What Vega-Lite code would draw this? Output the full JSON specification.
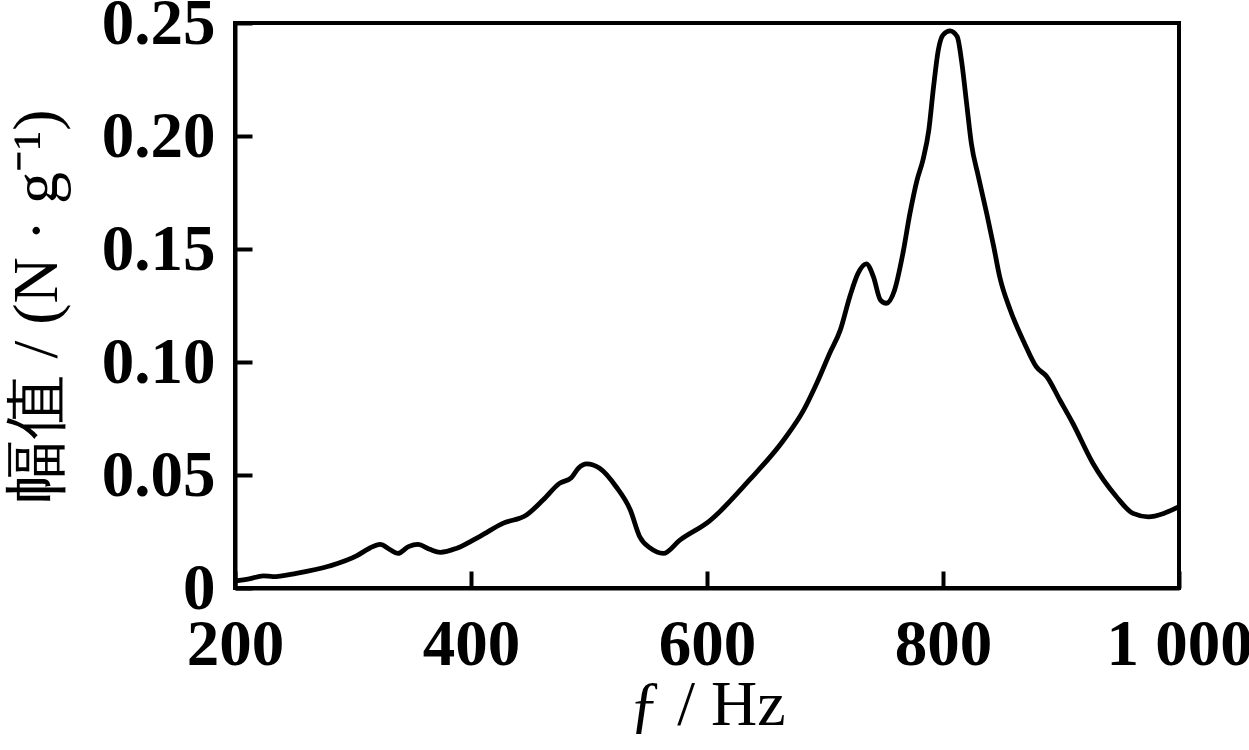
{
  "$schema": "https://vega.github.io/schema/vega-lite/v6.json",
  "autosize": {"type": "none"},
  "padding": {"left": 235, "top": 23, "right": 70, "bottom": 162},
  "width": 944,
  "height": 565,
  "background": "white",
  "data": {
    "values": [
      {"f": 200, "amp": 0.003},
      {"f": 212, "amp": 0.004},
      {"f": 224, "amp": 0.0054},
      {"f": 232, "amp": 0.005},
      {"f": 252, "amp": 0.0065},
      {"f": 280, "amp": 0.0097},
      {"f": 303, "amp": 0.0142},
      {"f": 314, "amp": 0.0176},
      {"f": 323, "amp": 0.0193},
      {"f": 331, "amp": 0.0171},
      {"f": 338, "amp": 0.0153},
      {"f": 347, "amp": 0.0183},
      {"f": 355, "amp": 0.0193},
      {"f": 365, "amp": 0.0171},
      {"f": 374, "amp": 0.0158},
      {"f": 388, "amp": 0.0176},
      {"f": 408, "amp": 0.023},
      {"f": 427, "amp": 0.0286},
      {"f": 447, "amp": 0.0323},
      {"f": 461, "amp": 0.0389},
      {"f": 475, "amp": 0.0463},
      {"f": 485, "amp": 0.0488},
      {"f": 491, "amp": 0.053},
      {"f": 498, "amp": 0.0549},
      {"f": 509, "amp": 0.053},
      {"f": 523, "amp": 0.0448},
      {"f": 535, "amp": 0.0345},
      {"f": 543, "amp": 0.0227},
      {"f": 552, "amp": 0.0176},
      {"f": 563, "amp": 0.0153},
      {"f": 577, "amp": 0.0212},
      {"f": 602, "amp": 0.0296},
      {"f": 636, "amp": 0.0478},
      {"f": 665, "amp": 0.0655},
      {"f": 682, "amp": 0.0788},
      {"f": 693, "amp": 0.0906},
      {"f": 704, "amp": 0.1039},
      {"f": 713, "amp": 0.1142},
      {"f": 721, "amp": 0.1289},
      {"f": 728, "amp": 0.1392},
      {"f": 735, "amp": 0.1434},
      {"f": 741, "amp": 0.1378},
      {"f": 747, "amp": 0.1274},
      {"f": 752, "amp": 0.126},
      {"f": 759, "amp": 0.1319},
      {"f": 766, "amp": 0.148},
      {"f": 772, "amp": 0.1658},
      {"f": 778, "amp": 0.1805},
      {"f": 783, "amp": 0.1894},
      {"f": 788, "amp": 0.2027},
      {"f": 792, "amp": 0.2218},
      {"f": 796, "amp": 0.238},
      {"f": 800, "amp": 0.2447},
      {"f": 806, "amp": 0.2465},
      {"f": 812, "amp": 0.244},
      {"f": 816, "amp": 0.2322},
      {"f": 820, "amp": 0.2145},
      {"f": 824, "amp": 0.1968},
      {"f": 830, "amp": 0.182},
      {"f": 837, "amp": 0.1658},
      {"f": 843, "amp": 0.151},
      {"f": 848, "amp": 0.1378},
      {"f": 857, "amp": 0.123},
      {"f": 869, "amp": 0.1083},
      {"f": 879, "amp": 0.0979},
      {"f": 888, "amp": 0.0935},
      {"f": 899, "amp": 0.0832},
      {"f": 910, "amp": 0.0729},
      {"f": 927, "amp": 0.0552},
      {"f": 947, "amp": 0.0404},
      {"f": 961, "amp": 0.033},
      {"f": 974, "amp": 0.0315},
      {"f": 987, "amp": 0.033},
      {"f": 1000, "amp": 0.036}
    ]
  },
  "mark": {"type": "line", "color": "black", "strokeWidth": 4.8, "interpolate": "monotone"},
  "encoding": {
    "x": {
      "field": "f",
      "type": "quantitative",
      "scale": {"domain": [200, 1000], "nice": false, "zero": false},
      "axis": {
        "title": "ƒ / Hz",
        "values": [200, 400, 600, 800, 1000],
        "labelExpr": "datum.value == 1000 ? '1 000' : datum.label",
        "labelPadding": 42,
        "titlePadding": -4
      }
    },
    "y": {
      "field": "amp",
      "type": "quantitative",
      "scale": {"domain": [0, 0.25], "nice": false},
      "axis": {
        "title": "幅值 / (N · g⁻¹)",
        "values": [0, 0.05, 0.1, 0.15, 0.2, 0.25],
        "labelExpr": "datum.value == 0 ? '0' : format(datum.value, '.2f')",
        "labelPadding": 37,
        "titlePadding": 32
      }
    }
  },
  "config": {
    "view": {"stroke": "black", "strokeWidth": 4},
    "axis": {
      "grid": false,
      "domainColor": "black",
      "domainWidth": 4,
      "tickColor": "black",
      "tickWidth": 4,
      "tickSize": -17,
      "labelFont": "Liberation Serif",
      "labelFontSize": 65,
      "labelFontWeight": "bold",
      "labelColor": "black",
      "labelOverlap": false,
      "labelFlush": false,
      "titleFont": "Liberation Serif",
      "titleFontSize": 64,
      "titleFontWeight": "normal",
      "titleColor": "black"
    }
  }
}
